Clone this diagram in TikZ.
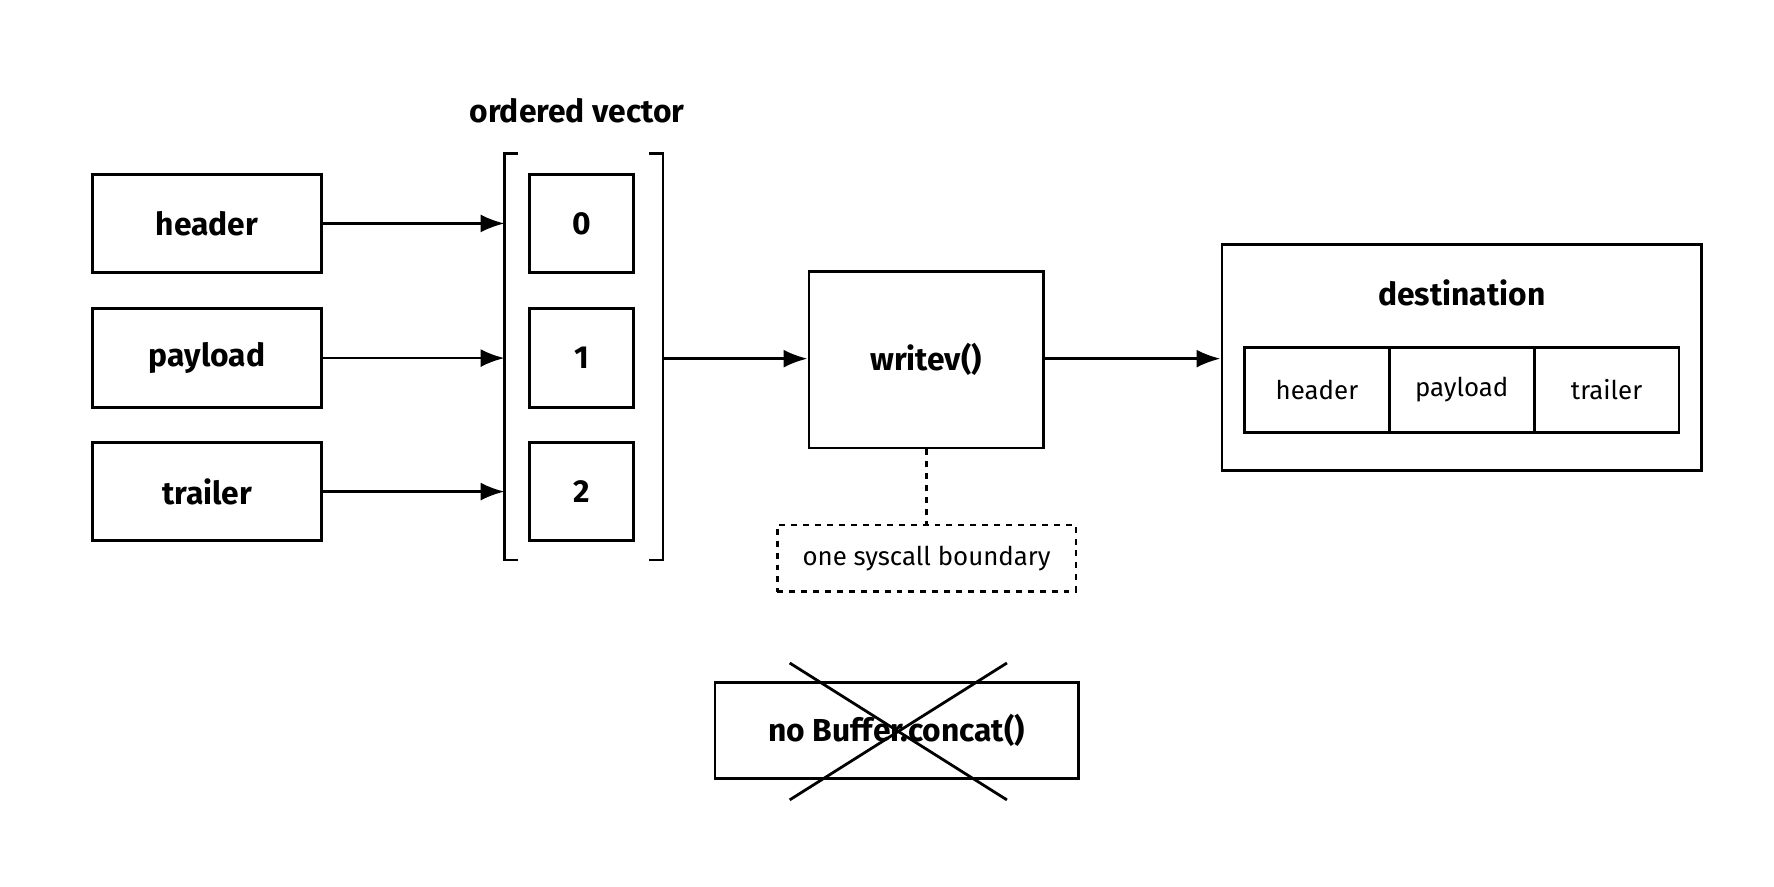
\documentclass[tikz,border=0pt]{standalone}
\usepackage{fontspec}
\setmainfont{Fira Sans}
\usetikzlibrary{arrows.meta}
\begin{document}
\begin{tikzpicture}[x=0.02cm,y=-0.02cm,line width=1.4pt,
  box/.style={draw,rectangle,font=\fontsize{16}{19}\selectfont\bfseries},
  cell/.style={draw,rectangle,font=\fontsize{13}{16}\selectfont},
  arr/.style={-{Latex[length=12pt,width=9pt]}}]
\useasboundingbox (0,0) rectangle (1568,784);
\path[fill=white] (0,0) rectangle (1568,784);
\foreach \n/\t/\ya/\yb in {h/header/154/241, p/payload/273/360, t/trailer/391/478}{
  \draw (82,\ya) rectangle (284,\yb);
  \node[font=\fontsize{16}{19}\selectfont\bfseries] (\n) at (183,{(\ya+\yb)/2}) {\t};
  \coordinate (\n r) at (284,{(\ya+\yb)/2});
  \coordinate (\n v) at (446,{(\ya+\yb)/2});
}
\foreach \n/\t/\ya/\yb in {c0/0/154/241, c1/1/273/360, c2/2/391/478}{
  \draw (468,\ya) rectangle (560,\yb);
  \node[font=\fontsize{16}{19}\selectfont\bfseries] (\n) at (514,{(\ya+\yb)/2}) {\t};
}
\draw (458,136) -- (446,136) -- (446,495) -- (458,495);
\draw (574,136) -- (586,136) -- (586,495) -- (574,495);
\node[font=\fontsize{16}{19}\selectfont\bfseries] (ov) at (510,98) {ordered vector};
\draw[arr] (hr) -- (hv);
\draw[arr] (pr) -- (pv);
\draw[arr] (tr) -- (tv);
\coordinate (vr) at (586,317);
\node[box,minimum width=207*0.02cm,minimum height=156*0.02cm] (w) at (818.5,318) {writev()};
\draw[arr] (vr) -- (w.west|-vr);
\node[draw,rectangle,minimum width=424*0.02cm,minimum height=200*0.02cm] (d) at (1292,316) {};
\node[font=\fontsize{16}{19}\selectfont\bfseries] (dl) at (1292,259) {destination};
\draw[arr] (w.east|-vr) -- (d.west|-vr);
\foreach \n/\t/\x in {dh/header/1164, dp/payload/1292, dt/trailer/1420}{
  \node[cell,minimum width=128*0.02cm,minimum height=75*0.02cm] (\n) at (\x,344.5) {\t};
}
\node[draw,dashed,minimum width=264*0.02cm,minimum height=59*0.02cm,font=\fontsize{13}{16}\selectfont] (s) at (819,493.5) {one syscall boundary};
\draw[dashed] (w.south-|s.north) -- (s.north);
\node[box,minimum width=321*0.02cm,minimum height=85*0.02cm] (nb) at (792.5,645.5) {no Buffer.concat()};
\draw (698,586) -- (890,707);
\draw (890,586) -- (698,707);
\end{tikzpicture}
\end{document}
